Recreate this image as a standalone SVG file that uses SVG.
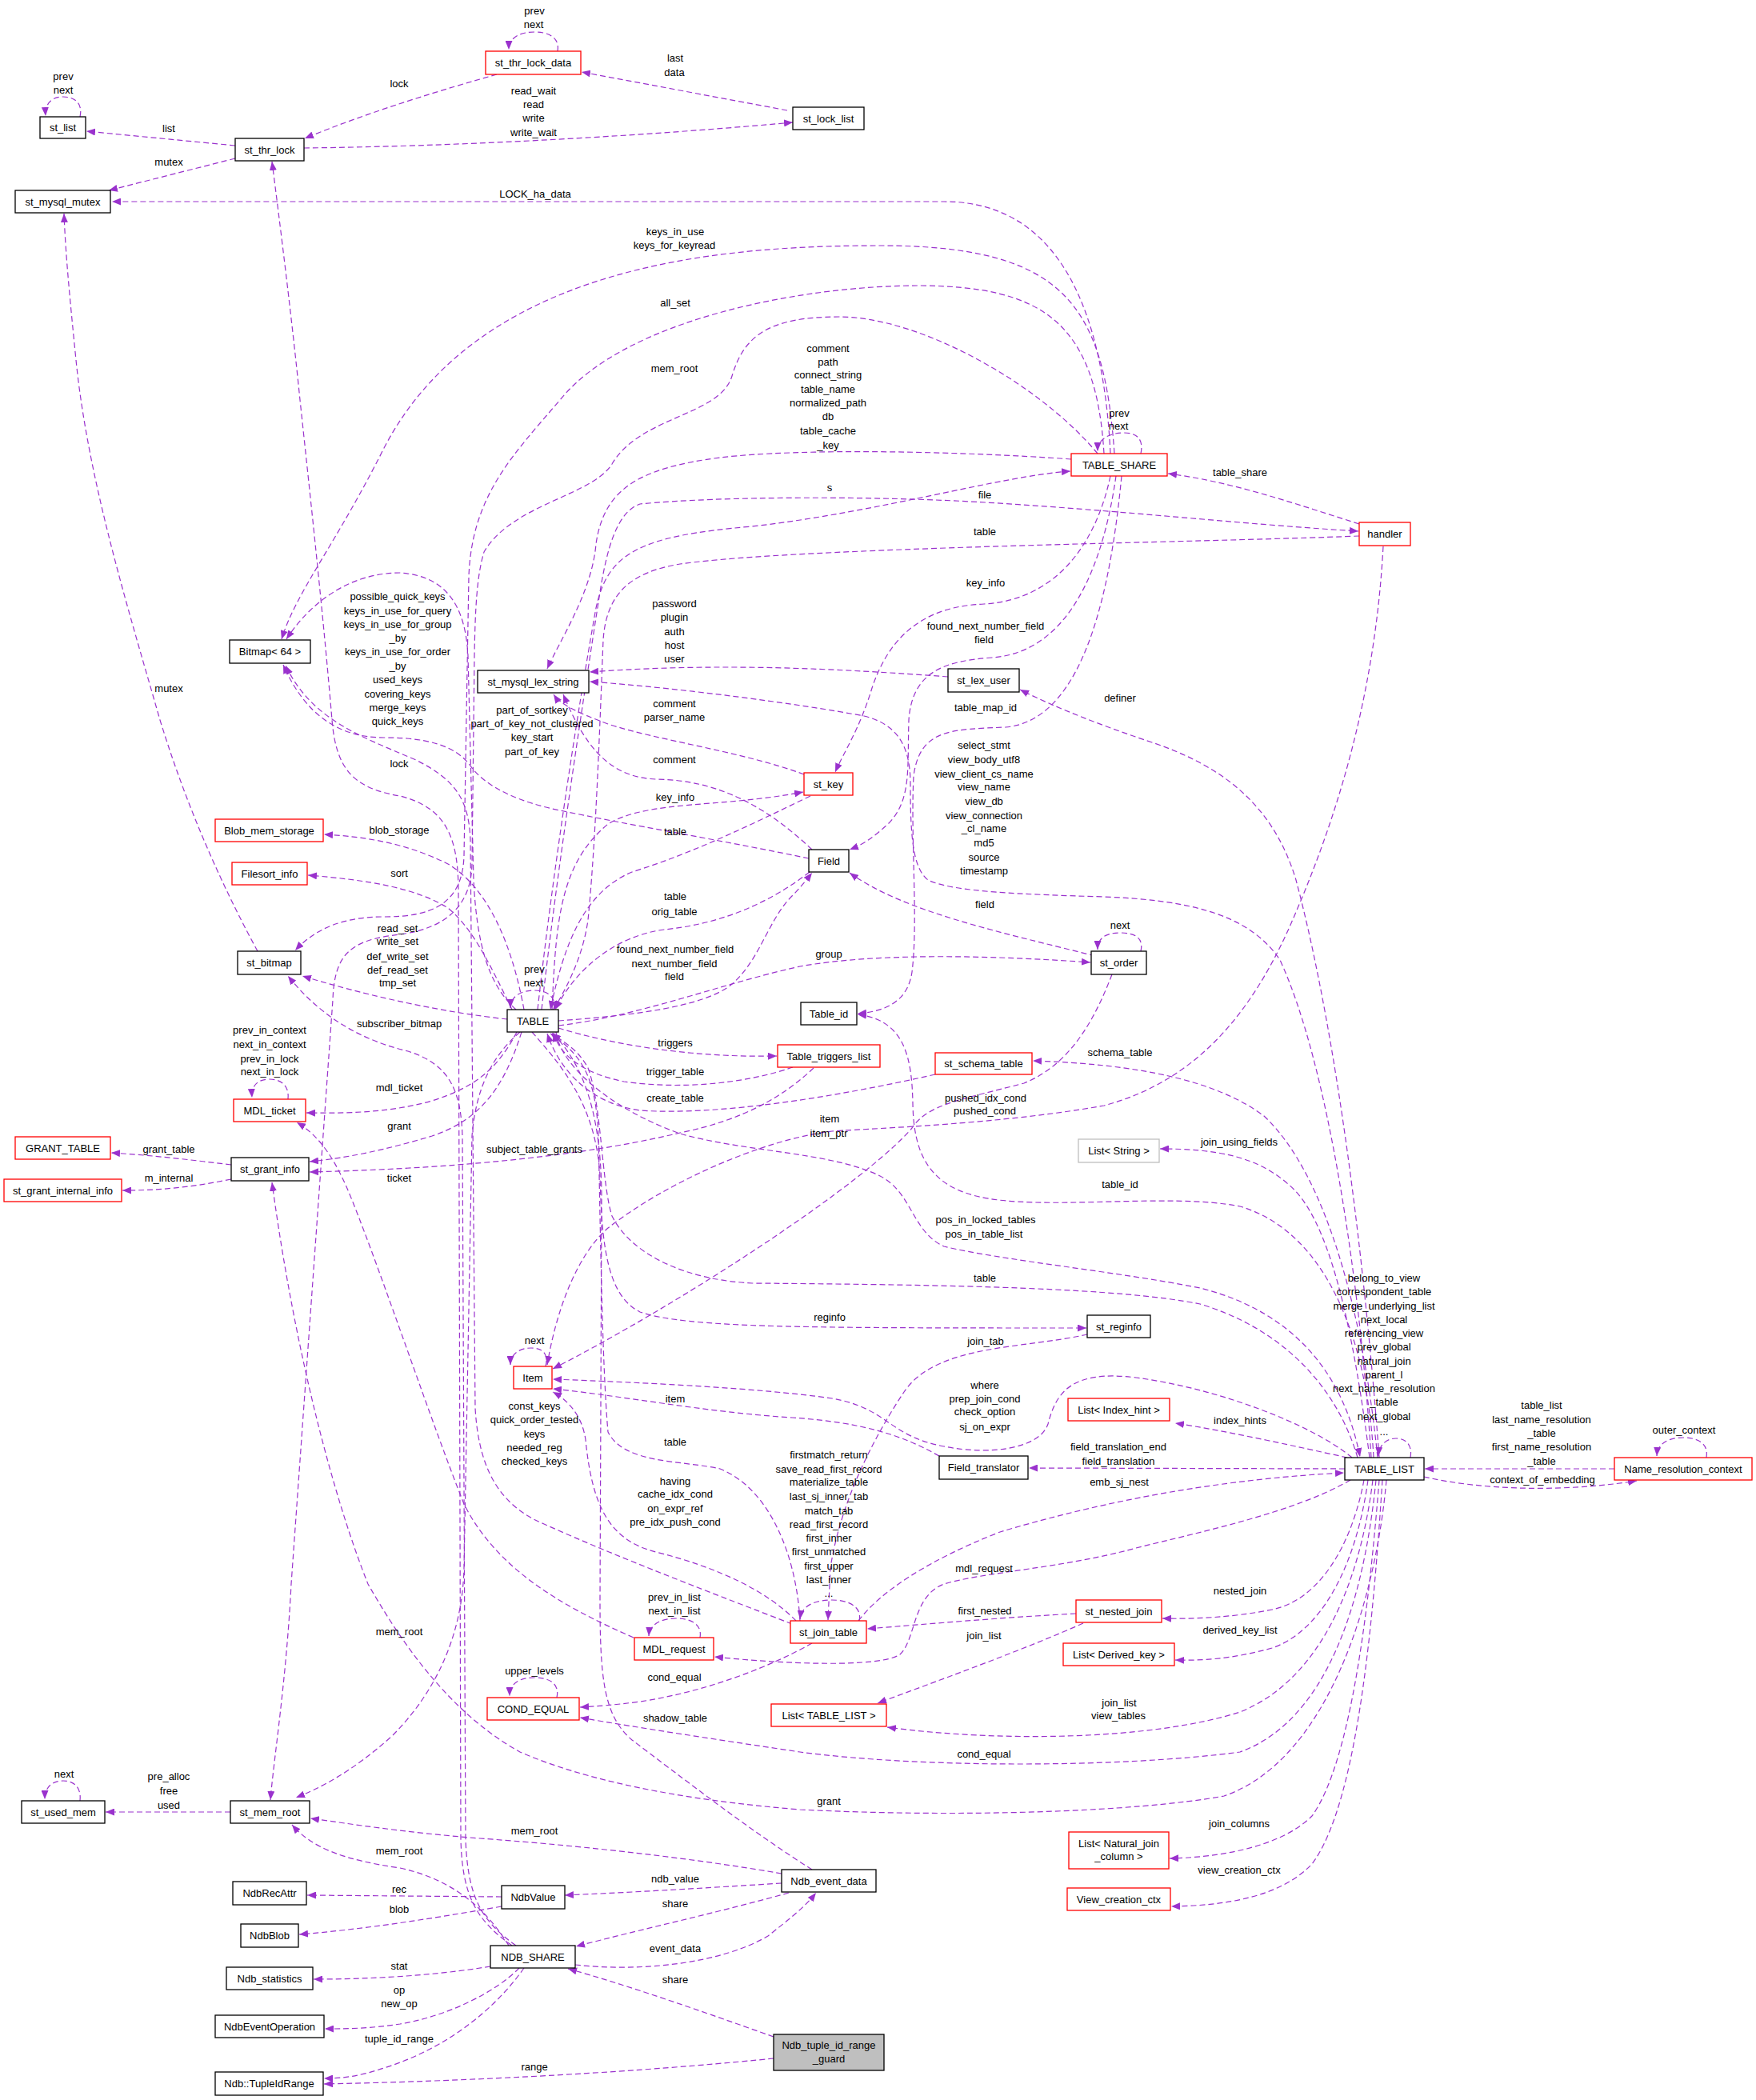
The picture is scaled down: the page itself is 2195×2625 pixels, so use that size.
<svg xmlns="http://www.w3.org/2000/svg" width="2195" height="2625" viewBox="0 0 2195 2625">
<style>
text{font-family:"Liberation Sans",Arial,Helvetica,sans-serif;font-size:13px;fill:#000;text-anchor:middle}
.n rect{fill:#fff;stroke:#000;stroke-width:1.3}
.r rect{stroke:#f00}
.g rect{stroke:#bfbfbf}
.s rect{fill:#bfbfbf}
#edges path{fill:none;stroke:#9a32cd;stroke-width:1.2;stroke-dasharray:7,4;marker-end:url(#a)}
</style>
<defs>
<marker id="a" markerWidth="12" markerHeight="9" refX="11" refY="4.5" orient="auto" markerUnits="userSpaceOnUse"><path d="M0,0 L11,4.5 L0,9 z" fill="#9a32cd"/></marker>
</defs>
<rect width="2195" height="2625" fill="#fff"/>
<g id="edges">
<path d="M100,146 C104,128 92,121 79,121 C66,121 56,128 57,145"/>
<path d="M294,182 L108,164"/>
<path d="M294,198 L136,238"/>
<path d="M621,93 C560,110 460,140 381,173"/>
<path d="M697,64 C700,47 686,40 668,40 C650,40 636,47 636,62"/>
<path d="M984,138 L727,90"/>
<path d="M380,185 C560,183 780,172 991,153"/>
<path d="M1388,567 C1380,400 1330,252 1180,252 L140,252"/>
<path d="M1393,567 C1380,380 1330,307 1100,307 C900,307 600,330 480,560 C420,680 370,740 352,799"/>
<path d="M1380,567 C1370,400 1300,358 1150,357 C1000,357 780,400 700,500 C640,570 590,620 586,720 L580,1070 C578,1130 540,1146 480,1146 C430,1146 395,1160 369,1188"/>
<path d="M1372,567 C1300,480 1150,396 1049,396 C960,396 930,420 915,470 C900,520 800,520 765,580 C740,620 640,630 605,690 C596,720 594,760 593,820 L590,1080 C589,1130 560,1160 500,1168 C440,1175 418,1190 416,1250 L364,1980 C358,2100 342,2200 338,2250"/>
<path d="M1339,574 C1200,564 1000,560 900,572 C800,585 755,610 745,680 C740,740 700,800 684,836"/>
<path d="M1426,567 C1430,548 1420,541 1405,541 C1388,541 1372,548 1372,564"/>
<path d="M672,1262 C690,1100 720,900 745,760 C760,690 800,670 940,658 C1100,640 1250,595 1338,589"/>
<path d="M677,1262 C695,1100 725,900 750,740 C758,690 770,640 800,630 C900,620 1100,620 1231,628 C1400,638 1550,655 1698,664"/>
<path d="M1699,655 C1620,630 1540,602 1460,592"/>
<path d="M1699,670 C1500,678 1000,684 850,705 C790,715 758,740 754,800 C750,900 745,1050 735,1150 C728,1200 705,1240 692,1262"/>
<path d="M1388,595 C1370,680 1320,750 1230,755 C1150,758 1110,800 1090,860 C1075,910 1055,940 1044,965"/>
<path d="M1395,595 C1380,700 1340,815 1240,822 C1180,826 1140,840 1136,900 C1134,960 1140,1000 1110,1030 C1090,1048 1080,1055 1062,1062"/>
<path d="M1402,595 C1390,720 1360,900 1257,909 C1190,912 1150,910 1142,970 C1138,1050 1148,1150 1140,1215 C1135,1250 1110,1264 1072,1267"/>
<path d="M1185,846 C1050,836 900,828 737,840"/>
<path d="M1724,1822 C1700,1500 1660,1250 1620,1100 C1590,1000 1520,955 1440,928 C1380,908 1320,885 1275,862"/>
<path d="M1005,968 C930,940 820,925 760,905 C720,890 700,880 692,868"/>
<path d="M1015,1062 C960,1010 900,975 820,974 C760,972 730,930 704,868"/>
<path d="M690,1262 C695,1150 700,1080 760,1030 C810,1000 900,1010 1004,990"/>
<path d="M1013,995 C940,1030 870,1065 790,1090 C730,1115 705,1180 688,1262"/>
<path d="M1011,1073 C900,1050 780,1030 700,1013 C650,1003 610,985 590,960 C570,930 530,922 480,922 C420,922 380,890 354,831"/>
<path d="M1012,1090 C960,1130 900,1155 830,1162 C770,1170 720,1210 694,1262"/>
<path d="M698,1276 C780,1270 880,1260 915,1230 C950,1200 960,1150 990,1120 C1000,1110 1008,1100 1015,1091"/>
<path d="M698,1282 C800,1270 900,1230 1000,1208 C1100,1190 1250,1195 1363,1203"/>
<path d="M1369,1195 C1250,1165 1130,1140 1062,1091"/>
<path d="M1426,1189 C1430,1172 1418,1166 1400,1166 C1383,1166 1372,1172 1372,1187"/>
<path d="M1717,1822 C1710,1680 1660,1540 1550,1508 C1460,1490 1300,1515 1220,1495 C1160,1480 1142,1440 1141,1380 C1140,1320 1130,1275 1072,1268"/>
<path d="M698,1285 C780,1310 880,1322 971,1320"/>
<path d="M991,1334 C930,1355 850,1362 780,1352 C730,1342 700,1320 692,1291"/>
<path d="M1169,1343 C1050,1370 900,1395 800,1388 C740,1380 700,1340 684,1292"/>
<path d="M1722,1822 C1705,1650 1660,1470 1580,1395 C1520,1350 1420,1330 1291,1326"/>
<path d="M1712,1822 C1690,1650 1660,1520 1610,1480 C1570,1445 1520,1436 1450,1436"/>
<path d="M1017,1335 C980,1370 930,1400 850,1416 C750,1440 600,1460 387,1465"/>
<path d="M792,2047 C700,2007 620,1960 580,1880 C540,1780 480,1600 440,1500 C420,1450 400,1420 371,1403"/>
<path d="M652,1290 C630,1360 600,1400 540,1420 C480,1438 430,1448 387,1452"/>
<path d="M646,1290 C620,1340 590,1360 540,1376 C490,1390 440,1392 383,1391"/>
<path d="M360,1374 C362,1356 350,1349 337,1349 C323,1349 314,1356 315,1372"/>
<path d="M289,1456 C240,1450 190,1444 139,1441"/>
<path d="M289,1474 C240,1484 200,1488 153,1488"/>
<path d="M1733,1850 C1720,2000 1660,2200 1530,2245 C1420,2265 1200,2272 1000,2262 C850,2250 730,2225 650,2190 C560,2140 500,2050 460,1980 C420,1880 370,1700 340,1478"/>
<path d="M288,2265 L132,2265"/>
<path d="M100,2251 C102,2234 92,2226 79,2226 C66,2226 56,2233 56,2249"/>
<path d="M977,2342 C850,2320 700,2305 600,2298 C500,2290 440,2280 388,2273"/>
<path d="M636,2432 C610,2390 570,2350 500,2335 C430,2325 390,2310 365,2281"/>
<path d="M977,2354 C880,2360 800,2365 706,2369"/>
<path d="M986,2366 C900,2390 800,2412 720,2433"/>
<path d="M719,2456 C800,2465 900,2455 960,2420 C985,2400 1005,2385 1020,2366"/>
<path d="M967,2546 C880,2515 780,2480 710,2461"/>
<path d="M967,2573 C850,2585 650,2600 405,2605"/>
<path d="M655,2460 C620,2510 560,2560 480,2585 C450,2595 430,2598 405,2598"/>
<path d="M649,2460 C620,2490 560,2520 500,2530 C460,2536 430,2536 406,2536"/>
<path d="M613,2458 C540,2470 460,2474 392,2474"/>
<path d="M627,2371 L384,2369"/>
<path d="M627,2383 C530,2400 450,2412 374,2418"/>
<path d="M1705,1850 C1690,1930 1650,2000 1590,2012 C1540,2022 1490,2024 1453,2023"/>
<path d="M1710,1850 C1695,1960 1650,2040 1590,2060 C1540,2074 1500,2076 1469,2075"/>
<path d="M1716,1850 C1700,1980 1650,2100 1550,2140 C1440,2175 1250,2178 1109,2159"/>
<path d="M1720,1850 C1705,2000 1660,2150 1550,2190 C1400,2210 1150,2210 1000,2190 C900,2175 800,2160 725,2147"/>
<path d="M1724,1850 C1712,2000 1690,2200 1640,2270 C1600,2310 1520,2322 1462,2323"/>
<path d="M1728,1850 C1718,2000 1700,2250 1640,2330 C1600,2372 1530,2382 1464,2383"/>
<path d="M1688,1850 C1620,1890 1500,1915 1420,1935 C1330,1960 1230,1965 1180,1980 C1140,1995 1145,2050 1125,2068 C1100,2085 980,2080 893,2071"/>
<path d="M1073,2026 C1100,1990 1160,1950 1250,1915 C1350,1885 1500,1850 1680,1841"/>
<path d="M1345,2017 C1250,2022 1160,2030 1084,2036"/>
<path d="M1354,2029 C1280,2062 1180,2098 1097,2129"/>
<path d="M1074,2026 C1078,2008 1060,2000 1040,2000 C1020,2000 1002,2006 1000,2024"/>
<path d="M1359,1668 C1280,1686 1170,1680 1130,1740 C1090,1800 1050,1880 1038,1960 L1035,2025"/>
<path d="M1015,2054 C960,2085 880,2115 800,2127 C770,2131 745,2133 725,2134"/>
<path d="M696,2122 C700,2104 686,2097 668,2097 C650,2097 637,2104 637,2120"/>
<path d="M875,2047 C878,2030 863,2023 845,2023 C827,2023 812,2030 811,2045"/>
<path d="M1015,2337 C940,2290 850,2220 790,2175 C755,2145 750,2100 750,2000 L752,1500 C752,1420 740,1340 690,1291"/>
<path d="M1000,2026 C995,1940 960,1860 900,1836 C850,1825 780,1830 760,1790 C752,1700 750,1500 748,1420 C745,1350 730,1320 688,1292"/>
<path d="M995,2026 C960,1990 900,1960 820,1940 C760,1925 740,1880 732,1800 C728,1770 710,1750 691,1740"/>
<path d="M990,2030 C900,1995 780,1950 680,1905 C620,1880 598,1830 594,1760 L588,1050 C586,1000 570,975 520,950 C450,920 390,900 357,832"/>
<path d="M1690,1822 C1640,1780 1520,1735 1420,1722 C1340,1712 1320,1740 1310,1780 C1300,1810 1240,1820 1180,1808 C1110,1795 1110,1760 1040,1748 C950,1735 800,1728 691,1724"/>
<path d="M1174,1820 C1130,1795 1080,1778 990,1772 C880,1765 780,1745 691,1736"/>
<path d="M1684,1822 C1620,1808 1530,1788 1469,1779"/>
<path d="M1681,1836 L1286,1835"/>
<path d="M2018,1836 L1781,1836"/>
<path d="M1780,1846 C1850,1862 1950,1866 2046,1851"/>
<path d="M2133,1822 C2136,1804 2122,1797 2104,1797 C2086,1797 2072,1804 2071,1820"/>
<path d="M1763,1822 C1766,1805 1756,1798 1745,1798 C1734,1798 1724,1805 1723,1820"/>
<path d="M1697,1822 C1670,1730 1600,1660 1500,1630 C1400,1610 1200,1606 940,1604 C860,1600 790,1570 765,1520 C752,1480 752,1380 735,1335 C722,1310 700,1300 690,1292"/>
<path d="M695,1290 C700,1330 760,1385 850,1417 C930,1440 1040,1440 1100,1470 C1140,1490 1140,1540 1180,1558 C1250,1575 1400,1590 1500,1610 C1620,1640 1680,1720 1700,1821"/>
<path d="M665,1290 C700,1330 745,1380 750,1470 C752,1560 760,1620 800,1640 C860,1660 1000,1660 1358,1660"/>
<path d="M1729,683 C1720,850 1680,1000 1620,1140 C1570,1260 1500,1350 1380,1382 C1250,1405 1100,1410 1040,1414 C950,1425 830,1480 760,1535 C720,1570 695,1640 684,1706"/>
<path d="M1390,1218 C1370,1270 1340,1330 1280,1354 C1200,1375 1160,1380 1140,1410 C1080,1480 850,1630 691,1711"/>
<path d="M682,1708 C686,1692 678,1685 664,1685 C650,1685 638,1692 638,1706"/>
<path d="M692,1262 C696,1246 684,1238 668,1238 C652,1238 638,1245 638,1260"/>
<path d="M645,1262 C610,1230 596,1180 592,1100 L585,820 C582,760 560,720 500,716 C440,716 390,750 358,799"/>
<path d="M655,1262 C640,1180 610,1110 560,1080 C510,1055 460,1046 405,1043"/>
<path d="M640,1262 C610,1200 590,1160 560,1135 C520,1110 460,1100 385,1094"/>
<path d="M634,1274 C560,1266 470,1248 378,1220"/>
<path d="M645,2432 C600,2400 585,2370 582,2300 L578,1420 C576,1360 560,1330 510,1314 C450,1300 400,1270 360,1220"/>
<path d="M640,2432 C595,2400 578,2370 576,2300 L573,1110 C572,1050 560,1010 500,995 C440,985 420,960 415,900 C405,780 390,640 375,500 C365,400 350,280 340,202"/>
<path d="M650,1290 C615,1320 595,1360 590,1420 L580,1960 C578,2050 540,2120 490,2170 C440,2215 400,2235 370,2247"/>
<path d="M322,1189 C290,1130 240,1030 200,900 C160,760 110,600 95,450 C88,380 82,320 80,267"/>
<path d="M1714,1822 C1700,1600 1660,1330 1600,1200 C1560,1140 1480,1125 1380,1121 C1280,1118 1190,1115 1160,1100 C1140,1085 1138,1040 1138,980 C1138,930 1120,905 1080,895 C1000,880 850,860 737,852"/>
</g>
<g id="labels">
<text x="79" y="99.5">prev</text><text x="79" y="116.5">next</text>
<text x="211" y="164.5">list</text>
<text x="211" y="206.5">mutex</text>
<text x="499" y="108.5">lock</text>
<text x="668" y="17.5">prev</text><text x="667" y="34.5">next</text>
<text x="844" y="76.5">last</text><text x="843" y="94.5">data</text>
<text x="667" y="117.5">read_wait</text><text x="667" y="134.5">read</text><text x="667" y="151.5">write</text><text x="667" y="169.5">write_wait</text>
<text x="669" y="246.5">LOCK_ha_data</text>
<text x="844" y="293.5">keys_in_use</text><text x="843" y="310.5">keys_for_keyread</text>
<text x="844" y="382.5">all_set</text>
<text x="843" y="464.5">mem_root</text>
<text x="1035" y="439.5">comment</text><text x="1035" y="456.5">path</text><text x="1035" y="472.5">connect_string</text><text x="1035" y="490.5">table_name</text><text x="1035" y="507.5">normalized_path</text><text x="1035" y="524.5">db</text><text x="1035" y="542.5">table_cache</text><text x="1035" y="560.5">_key</text>
<text x="1399" y="520.5">prev</text><text x="1398" y="536.5">next</text>
<text x="1037" y="613.5">s</text>
<text x="1231" y="622.5">file</text>
<text x="1550" y="594.5">table_share</text>
<text x="1231" y="668.5">table</text>
<text x="1232" y="732.5">key_info</text>
<text x="843" y="758.5">password</text><text x="843" y="775.5">plugin</text><text x="843" y="793.5">auth</text><text x="843" y="810.5">host</text><text x="843" y="827.5">user</text>
<text x="1232" y="786.5">found_next_number_field</text><text x="1230" y="803.5">field</text>
<text x="1400" y="876.5">definer</text>
<text x="843" y="883.5">comment</text><text x="843" y="900.5">parser_name</text>
<text x="1232" y="888.5">table_map_id</text>
<text x="1230" y="935.5">select_stmt</text><text x="1230" y="953.5">view_body_utf8</text><text x="1230" y="971.5">view_client_cs_name</text><text x="1230" y="987.5">view_name</text><text x="1230" y="1005.5">view_db</text><text x="1230" y="1023.5">view_connection</text><text x="1230" y="1039.5">_cl_name</text><text x="1230" y="1057.5">md5</text><text x="1230" y="1075.5">source</text><text x="1230" y="1092.5">timestamp</text>
<text x="843" y="953.5">comment</text>
<text x="844" y="1000.5">key_info</text>
<text x="844" y="1043.5">table</text>
<text x="844" y="1124.5">table</text><text x="843" y="1143.5">orig_table</text>
<text x="1231" y="1134.5">field</text>
<text x="1400" y="1160.5">next</text>
<text x="844" y="1190.5">found_next_number_field</text><text x="843" y="1208.5">next_number_field</text><text x="843" y="1224.5">field</text>
<text x="1036" y="1196.5">group</text>
<text x="844" y="1307.5">triggers</text>
<text x="1400" y="1319.5">schema_table</text>
<text x="497" y="749.5">possible_quick_keys</text><text x="497" y="767.5">keys_in_use_for_query</text><text x="497" y="784.5">keys_in_use_for_group</text><text x="497" y="801.5">_by</text><text x="497" y="818.5">keys_in_use_for_order</text><text x="497" y="836.5">_by</text><text x="497" y="853.5">used_keys</text><text x="497" y="871.5">covering_keys</text><text x="497" y="888.5">merge_keys</text><text x="497" y="905.5">quick_keys</text>
<text x="665" y="891.5">part_of_sortkey</text><text x="665" y="908.5">part_of_key_not_clustered</text><text x="665" y="925.5">key_start</text><text x="665" y="943.5">part_of_key</text>
<text x="499" y="958.5">lock</text>
<text x="499" y="1041.5">blob_storage</text>
<text x="499" y="1095.5">sort</text>
<text x="497" y="1164.5">read_set</text><text x="497" y="1180.5">write_set</text><text x="497" y="1199.5">def_write_set</text><text x="497" y="1216.5">def_read_set</text><text x="497" y="1232.5">tmp_set</text>
<text x="668" y="1215.5">prev</text><text x="667" y="1232.5">next</text>
<text x="211" y="864.5">mutex</text>
<text x="499" y="1283.5">subscriber_bitmap</text>
<text x="337" y="1291.5">prev_in_context</text><text x="337" y="1309.5">next_in_context</text><text x="337" y="1327.5">prev_in_lock</text><text x="337" y="1343.5">next_in_lock</text>
<text x="499" y="1363.5">mdl_ticket</text>
<text x="499" y="1411.5">grant</text>
<text x="211" y="1440.5">grant_table</text>
<text x="668" y="1440.5">subject_table_grants</text>
<text x="211" y="1476.5">m_internal</text>
<text x="499" y="1476.5">ticket</text>
<text x="844" y="1343.5">trigger_table</text>
<text x="844" y="1376.5">create_table</text>
<text x="1232" y="1376.5">pushed_idx_cond</text><text x="1231" y="1392.5">pushed_cond</text>
<text x="1037" y="1402.5">item</text><text x="1036" y="1420.5">item_ptr</text>
<text x="1549" y="1431.5">join_using_fields</text>
<text x="1400" y="1484.5">table_id</text>
<text x="1232" y="1528.5">pos_in_locked_tables</text><text x="1230" y="1546.5">pos_in_table_list</text>
<text x="1231" y="1601.5">table</text>
<text x="1037" y="1650.5">reginfo</text>
<text x="1232" y="1680.5">join_tab</text>
<text x="668" y="1679.5">next</text>
<text x="1231" y="1735.5">where</text><text x="1231" y="1752.5">prep_join_cond</text><text x="1231" y="1768.5">check_option</text><text x="1231" y="1787.5">sj_on_expr</text>
<text x="844" y="1752.5">item</text>
<text x="1550" y="1779.5">index_hints</text>
<text x="668" y="1761.5">const_keys</text><text x="668" y="1778.5">quick_order_tested</text><text x="668" y="1796.5">keys</text><text x="668" y="1813.5">needed_reg</text><text x="668" y="1830.5">checked_keys</text>
<text x="1730" y="1601.5">belong_to_view</text><text x="1730" y="1618.5">correspondent_table</text><text x="1730" y="1636.5">merge_underlying_list</text><text x="1730" y="1653.5">next_local</text><text x="1730" y="1670.5">referencing_view</text><text x="1730" y="1687.5">prev_global</text><text x="1730" y="1705.5">natural_join</text><text x="1730" y="1722.5">parent_l</text><text x="1730" y="1739.5">next_name_resolution</text><text x="1730" y="1756.5">_table</text><text x="1730" y="1774.5">next_global</text><text x="1730" y="1793.5">...</text>
<text x="1927" y="1760.5">table_list</text><text x="1927" y="1778.5">last_name_resolution</text><text x="1927" y="1795.5">_table</text><text x="1927" y="1812.5">first_name_resolution</text><text x="1927" y="1830.5">_table</text>
<text x="2105" y="1791.5">outer_context</text>
<text x="1928" y="1853.5">context_of_embedding</text>
<text x="1398" y="1812.5">field_translation_end</text><text x="1398" y="1830.5">field_translation</text>
<text x="844" y="1806.5">table</text>
<text x="1036" y="1822.5">firstmatch_return</text><text x="1036" y="1840.5">save_read_first_record</text><text x="1036" y="1856.5">materialize_table</text><text x="1036" y="1874.5">last_sj_inner_tab</text><text x="1036" y="1892.5">match_tab</text><text x="1036" y="1909.5">read_first_record</text><text x="1036" y="1926.5">first_inner</text><text x="1036" y="1943.5">first_unmatched</text><text x="1036" y="1961.5">first_upper</text><text x="1036" y="1978.5">last_inner</text><text x="1036" y="1995.5">...</text>
<text x="1399" y="1856.5">emb_sj_nest</text>
<text x="844" y="1855.5">having</text><text x="844" y="1871.5">cache_idx_cond</text><text x="844" y="1889.5">on_expr_ref</text><text x="844" y="1906.5">pre_idx_push_cond</text>
<text x="1230" y="1964.5">mdl_request</text>
<text x="1550" y="1992.5">nested_join</text>
<text x="843" y="2000.5">prev_in_list</text><text x="843" y="2017.5">next_in_list</text>
<text x="1231" y="2017.5">first_nested</text>
<text x="1230" y="2048.5">join_list</text>
<text x="1550" y="2041.5">derived_key_list</text>
<text x="499" y="2043.5">mem_root</text>
<text x="668" y="2092.5">upper_levels</text>
<text x="843" y="2100.5">cond_equal</text>
<text x="1399" y="2132.5">join_list</text><text x="1398" y="2148.5">view_tables</text>
<text x="844" y="2151.5">shadow_table</text>
<text x="1230" y="2196.5">cond_equal</text>
<text x="80" y="2221.5">next</text>
<text x="211" y="2224.5">pre_alloc</text><text x="211" y="2242.5">free</text><text x="211" y="2260.5">used</text>
<text x="1036" y="2255.5">grant</text>
<text x="1549" y="2283.5">join_columns</text>
<text x="668" y="2292.5">mem_root</text>
<text x="499" y="2317.5">mem_root</text>
<text x="1549" y="2341.5">view_creation_ctx</text>
<text x="844" y="2352.5">ndb_value</text>
<text x="499" y="2365.5">rec</text>
<text x="844" y="2383.5">share</text>
<text x="499" y="2390.5">blob</text>
<text x="844" y="2439.5">event_data</text>
<text x="499" y="2461.5">stat</text>
<text x="844" y="2478.5">share</text>
<text x="499" y="2491.5">op</text><text x="499" y="2508.5">new_op</text>
<text x="499" y="2552.5">tuple_id_range</text>
<text x="668" y="2587.5">range</text>
</g>
<g id="n_st_list" class="n"><rect x="50" y="146" width="57" height="27"/><text x="78.5" y="164">st_list</text></g>
<g id="n_st_thr_lock" class="n"><rect x="294" y="173" width="86" height="28"/><text x="337" y="191.5">st_thr_lock</text></g>
<g id="n_st_mysql_mutex" class="n"><rect x="19" y="238" width="119" height="28"/><text x="78.5" y="256.5">st_mysql_mutex</text></g>
<g id="n_st_thr_lock_data" class="n r"><rect x="607" y="64" width="119" height="29"/><text x="666.5" y="83">st_thr_lock_data</text></g>
<g id="n_st_lock_list" class="n"><rect x="991" y="134" width="89" height="28"/><text x="1035.5" y="152.5">st_lock_list</text></g>
<g id="n_TABLE_SHARE" class="n r"><rect x="1339" y="567" width="120" height="28"/><text x="1399" y="585.5">TABLE_SHARE</text></g>
<g id="n_handler" class="n r"><rect x="1699" y="653" width="64" height="29"/><text x="1731" y="672">handler</text></g>
<g id="n_Bitmap64" class="n"><rect x="287" y="800" width="101" height="29"/><text x="337.5" y="819">Bitmap&lt; 64 &gt;</text></g>
<g id="n_st_mysql_lex_string" class="n"><rect x="597" y="838" width="139" height="28"/><text x="666.5" y="856.5">st_mysql_lex_string</text></g>
<g id="n_st_lex_user" class="n"><rect x="1185" y="836" width="89" height="29"/><text x="1229.5" y="855">st_lex_user</text></g>
<g id="n_st_key" class="n r"><rect x="1005" y="966" width="61" height="28"/><text x="1035.5" y="984.5">st_key</text></g>
<g id="n_Field" class="n"><rect x="1011" y="1062" width="50" height="28"/><text x="1036" y="1080.5">Field</text></g>
<g id="n_Blob_mem_storage" class="n r"><rect x="269" y="1024" width="135" height="28"/><text x="336.5" y="1042.5">Blob_mem_storage</text></g>
<g id="n_Filesort_info" class="n r"><rect x="290" y="1078" width="94" height="28"/><text x="337" y="1096.5">Filesort_info</text></g>
<g id="n_st_bitmap" class="n"><rect x="297" y="1189" width="79" height="29"/><text x="336.5" y="1208">st_bitmap</text></g>
<g id="n_TABLE" class="n"><rect x="634" y="1262" width="64" height="28"/><text x="666" y="1280.5">TABLE</text></g>
<g id="n_st_order" class="n"><rect x="1364" y="1189" width="69" height="29"/><text x="1398.5" y="1208">st_order</text></g>
<g id="n_Table_id" class="n"><rect x="1001" y="1253" width="70" height="28"/><text x="1036" y="1271.5">Table_id</text></g>
<g id="n_Table_triggers_list" class="n r"><rect x="972" y="1306" width="128" height="28"/><text x="1036" y="1324.5">Table_triggers_list</text></g>
<g id="n_st_schema_table" class="n r"><rect x="1169" y="1316" width="121" height="27"/><text x="1229.5" y="1334">st_schema_table</text></g>
<g id="n_MDL_ticket" class="n r"><rect x="292" y="1374" width="90" height="28"/><text x="337" y="1392.5">MDL_ticket</text></g>
<g id="n_GRANT_TABLE" class="n r"><rect x="19" y="1421" width="119" height="28"/><text x="78.5" y="1439.5">GRANT_TABLE</text></g>
<g id="n_st_grant_info" class="n"><rect x="289" y="1447" width="97" height="29"/><text x="337.5" y="1466">st_grant_info</text></g>
<g id="n_st_grant_internal_info" class="n r"><rect x="5" y="1474" width="147" height="28"/><text x="78.5" y="1492.5">st_grant_internal_info</text></g>
<g id="n_List_String" class="n g"><rect x="1348" y="1424" width="101" height="29"/><text x="1398.5" y="1443">List&lt; String &gt;</text></g>
<g id="n_st_reginfo" class="n"><rect x="1359" y="1644" width="79" height="28"/><text x="1398.5" y="1662.5">st_reginfo</text></g>
<g id="n_Item" class="n r"><rect x="642" y="1708" width="48" height="28"/><text x="666" y="1726.5">Item</text></g>
<g id="n_List_Index_hint" class="n r"><rect x="1335" y="1748" width="127" height="28"/><text x="1398.5" y="1766.5">List&lt; Index_hint &gt;</text></g>
<g id="n_Field_translator" class="n"><rect x="1174" y="1820" width="111" height="29"/><text x="1229.5" y="1839">Field_translator</text></g>
<g id="n_TABLE_LIST" class="n"><rect x="1681" y="1822" width="99" height="28"/><text x="1730.5" y="1840.5">TABLE_LIST</text></g>
<g id="n_Name_resolution_context" class="n r"><rect x="2018" y="1822" width="172" height="28"/><text x="2104" y="1840.5">Name_resolution_context</text></g>
<g id="n_st_nested_join" class="n r"><rect x="1345" y="2000" width="107" height="28"/><text x="1398.5" y="2018.5">st_nested_join</text></g>
<g id="n_st_join_table" class="n r"><rect x="988" y="2026" width="95" height="28"/><text x="1035.5" y="2044.5">st_join_table</text></g>
<g id="n_MDL_request" class="n r"><rect x="793" y="2047" width="99" height="28"/><text x="842.5" y="2065.5">MDL_request</text></g>
<g id="n_List_Derived_key" class="n r"><rect x="1329" y="2054" width="139" height="28"/><text x="1398.5" y="2072.5">List&lt; Derived_key &gt;</text></g>
<g id="n_COND_EQUAL" class="n r"><rect x="609" y="2122" width="115" height="28"/><text x="666.5" y="2140.5">COND_EQUAL</text></g>
<g id="n_List_TABLE_LIST" class="n r"><rect x="964" y="2130" width="144" height="28"/><text x="1036" y="2148.5">List&lt; TABLE_LIST &gt;</text></g>
<g id="n_st_used_mem" class="n"><rect x="27" y="2251" width="104" height="28"/><text x="79" y="2269.5">st_used_mem</text></g>
<g id="n_st_mem_root" class="n"><rect x="288" y="2251" width="99" height="28"/><text x="337.5" y="2269.5">st_mem_root</text></g>
<g id="n_List_Natural_join_column" class="n r"><rect x="1336" y="2290" width="125" height="46"/><text x="1398.5" y="2308.5">List&lt; Natural_join</text><text x="1398.5" y="2324.5">_column &gt;</text></g>
<g id="n_Ndb_event_data" class="n"><rect x="977" y="2337" width="118" height="28"/><text x="1036" y="2355.5">Ndb_event_data</text></g>
<g id="n_NdbRecAttr" class="n"><rect x="291" y="2352" width="92" height="29"/><text x="337" y="2371">NdbRecAttr</text></g>
<g id="n_NdbValue" class="n"><rect x="627" y="2357" width="79" height="29"/><text x="666.5" y="2376">NdbValue</text></g>
<g id="n_View_creation_ctx" class="n r"><rect x="1334" y="2360" width="129" height="28"/><text x="1398.5" y="2378.5">View_creation_ctx</text></g>
<g id="n_NdbBlob" class="n"><rect x="301" y="2405" width="72" height="29"/><text x="337" y="2424">NdbBlob</text></g>
<g id="n_NDB_SHARE" class="n"><rect x="613" y="2432" width="106" height="28"/><text x="666" y="2450.5">NDB_SHARE</text></g>
<g id="n_Ndb_statistics" class="n"><rect x="283" y="2459" width="108" height="28"/><text x="337" y="2477.5">Ndb_statistics</text></g>
<g id="n_NdbEventOperation" class="n"><rect x="269" y="2519" width="136" height="28"/><text x="337" y="2537.5">NdbEventOperation</text></g>
<g id="n_Ndb_TupleIdRange" class="n"><rect x="269" y="2590" width="135" height="29"/><text x="336.5" y="2609">Ndb::TupleIdRange</text></g>
<g id="n_Ndb_tuple_id_range_guard" class="n s"><rect x="967" y="2543" width="138" height="45"/><text x="1036" y="2560.5">Ndb_tuple_id_range</text><text x="1036" y="2577.5">_guard</text></g>
</svg>
